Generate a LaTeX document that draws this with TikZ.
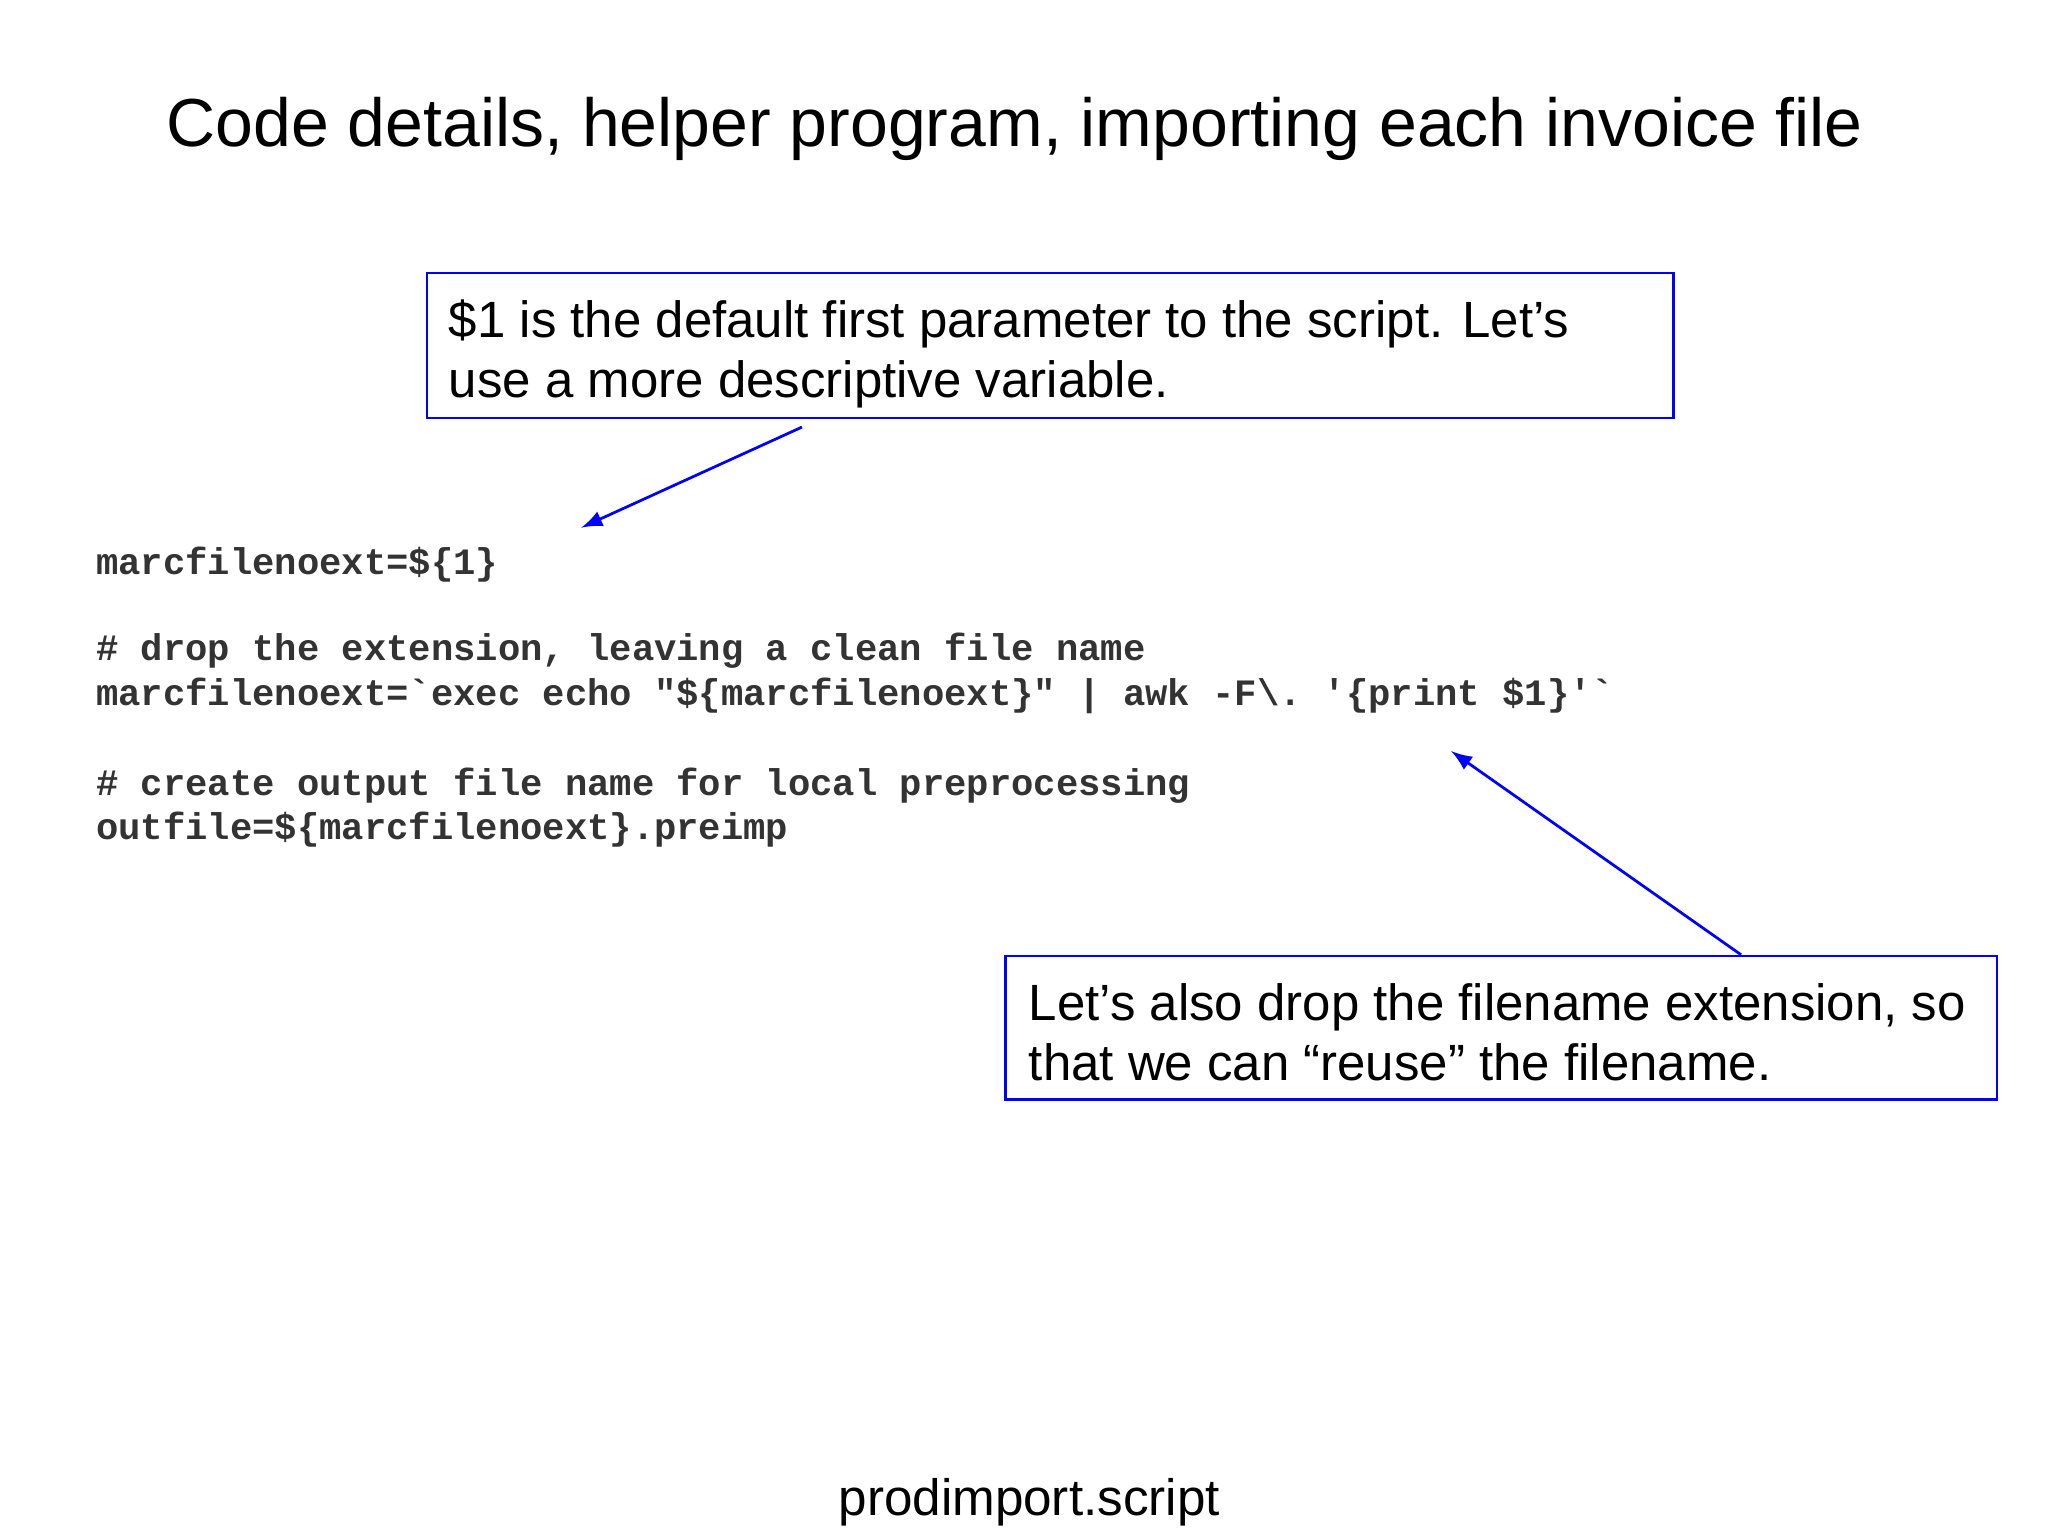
\documentclass[tikz,border=0pt]{standalone}
\usepackage{fontspec}
\setmainfont{Liberation Sans}
\setmonofont{Liberation Mono}
\usetikzlibrary{positioning}
\begin{document}
\begin{tikzpicture}[x=0.01cm,y=-0.01cm,
  note/.style={anchor=north west, align=left, inner sep=0pt, font=\fontsize{11.1}{13.1}\selectfont},
  codeline/.style={anchor=base west, inner sep=0pt, font=\ttfamily\bfseries\fontsize{8.1}{9}\selectfont, text=black!80},
  pointer/.style={->, >=latex, blue, semithick}
]
\useasboundingbox[fill=white] (0,0) rectangle (1568,1176);

\node[anchor=base, font=\fontsize{14.8}{17}\selectfont] (title) at (777,112) {Code details, helper program, importing each invoice file};

% text boxes
\draw[blue, semithick] (327,209) rectangle (1281,320);
\node[note] (param) at (343,229)
  {\$1 is the default first parameter to the script. Let’s\\use a more descriptive variable.};
\draw[blue, semithick] (770,732) rectangle (1529,842);
\node[note] (ext) at (787,752)
  {Let’s also drop the filename extension, so\\that we can “reuse” the filename.};

% code
\node[codeline] (l1) at (73,440) {marcfilenoext=\$\{1\}};
\node[codeline] (l2) at (73,506) {\# drop the extension, leaving a clean file name};
\node[codeline] (l3) at (73,540) {marcfilenoext=`exec echo "\$\{marcfilenoext\}" | awk -F\textbackslash. '\{print \$1\}'`};
\node[codeline] (l4) at (73,609) {\# create output file name for local preprocessing};
\node[codeline] (l5) at (73,643) {outfile=\$\{marcfilenoext\}.preimp};

% arrows
\coordinate (p1s) at (614,327);
\coordinate (p1e) at (445,404);
\coordinate (p2s) at (1333,731);
\coordinate (p2e) at (1111,575);
\draw[pointer] (p1s) -- (p1e);
\draw[pointer] (p2s) -- (p2e);

\node[anchor=base, font=\fontsize{11.15}{13}\selectfont] (footer) at (788,1160) {prodimport.script};
\end{tikzpicture}
\end{document}
